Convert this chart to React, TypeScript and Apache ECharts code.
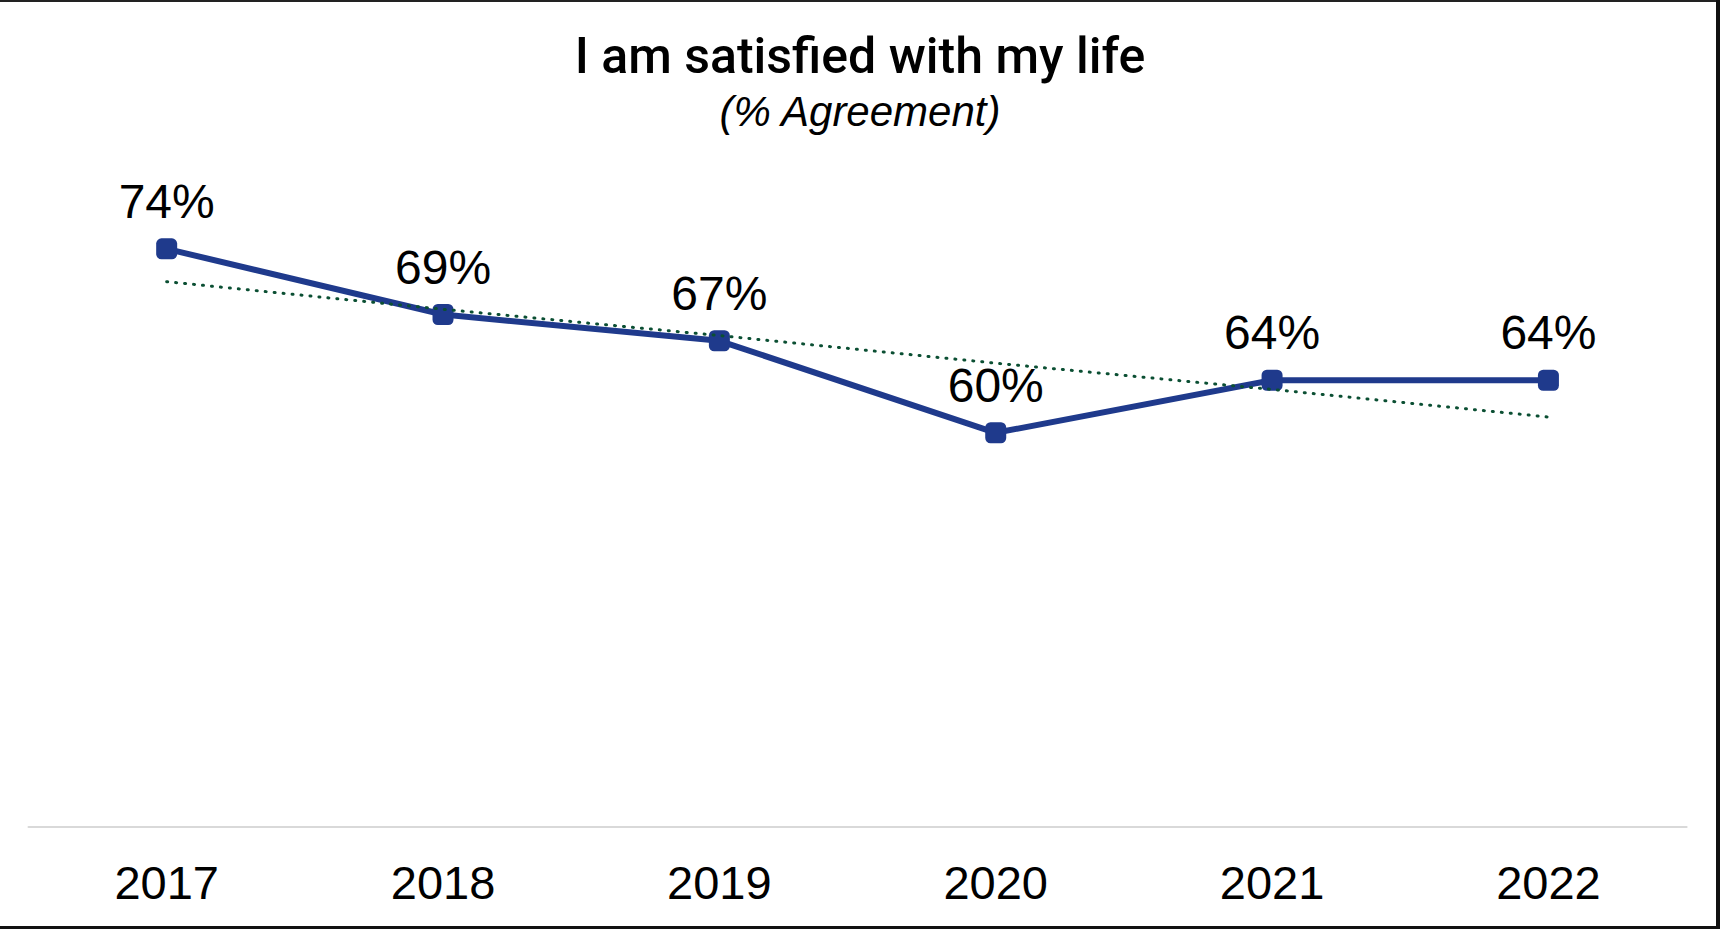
import React, { useEffect, useRef } from "react";
import * as echarts from "echarts";

const categories = ["2017", "2018", "2019", "2020", "2021", "2022"];
const agreement = [74, 69, 67, 60, 64, 64];
const trend = [71.5, 69.4, 67.4, 65.3, 63.3, 61.2];
const titleText = "I am satisfied with my life";
const subtitleText = "(% Agreement)";

export default function App() {
  const ref = useRef<HTMLDivElement>(null);
  useEffect(() => {
    document.body.style.margin = "0";
    const chart = echarts.init(ref.current!, null, { renderer: "svg" });
    chart.setOption({
      animation: false,
      backgroundColor: "#ffffff",
      grid: { left: 28.5, right: 33.4, top: 170, bottom: 102, containLabel: false },
      xAxis: {
        type: "category",
        data: categories,
        boundaryGap: true,
        axisLine: { show: true, lineStyle: { color: "#d9d9d9", width: 2 } },
        axisTick: { show: false },
        axisLabel: {
          color: "#000",
          fontSize: 47,
          fontFamily: "Liberation Sans, Arial, sans-serif",
          margin: 32,
        },
        splitLine: { show: false },
      },
      yAxis: {
        type: "value",
        min: 30,
        max: 80,
        show: false,
        splitLine: { show: false },
      },
      series: [
        {
          type: "line",
          data: agreement,
          z: 2,
          lineStyle: { color: "#1f3a8c", width: 6 },
          itemStyle: { color: "#1f3a8c" },
          symbol: "roundRect",
          symbolSize: 21,
          label: {
            show: true,
            position: "top",
            distance: 13,
            formatter: "{c}%",
            color: "#000",
            fontSize: 48,
            fontFamily: "Liberation Sans, Arial, sans-serif",
          },
        },
        {
          type: "line",
          data: trend,
          z: 3,
          symbol: "none",
          silent: true,
          lineStyle: { color: "#0b4f33", width: 3, type: [1, 8], cap: "round" },
        },
      ],
      graphic: [
        {
          type: "text",
          x: 860,
          y: 56,
          style: {
            text: titleText,
            fill: "#000",
            fontSize: 50,
            fontWeight: 500,
            fontFamily: "Roboto, Liberation Sans, sans-serif",
            textAlign: "center",
            textVerticalAlign: "middle",
          },
        },
        {
          type: "text",
          x: 860,
          y: 111,
          style: {
            text: subtitleText,
            fill: "#000",
            fontSize: 42,
            fontStyle: "italic",
            fontFamily: "Liberation Sans, Arial, sans-serif",
            textAlign: "center",
            textVerticalAlign: "middle",
          },
        },
        { type: "rect", shape: { x: 0, y: 0, width: 1720, height: 2 }, style: { fill: "#222" } },
        { type: "rect", shape: { x: 1716, y: 0, width: 4, height: 929 }, style: { fill: "#111" } },
        { type: "rect", shape: { x: 0, y: 926, width: 1720, height: 3 }, style: { fill: "#111" } },
      ],
    });
    return () => chart.dispose();
  }, []);
  return <div ref={ref} style={{ width: 1720, height: 929 }} />;
}
